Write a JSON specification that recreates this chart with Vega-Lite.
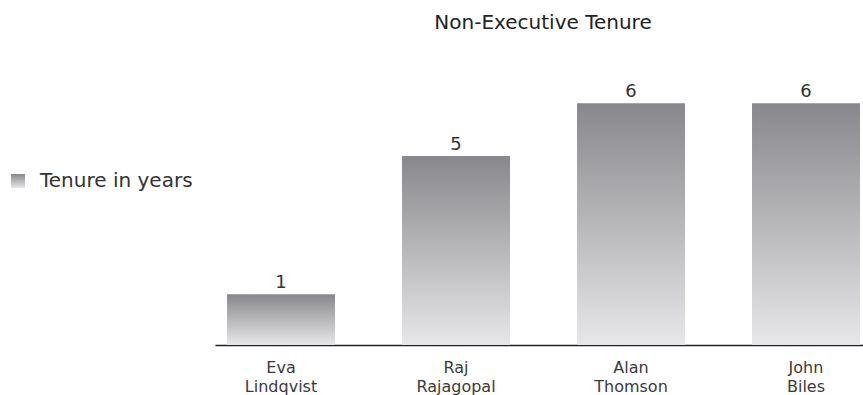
{
  "$schema": "https://vega.github.io/schema/vega-lite/v6.json",
  "autosize": "none",
  "padding": {"left": 215, "top": 63, "right": 0, "bottom": 50},
  "width": 648,
  "height": 282,
  "background": "white",
  "title": {
    "text": "Non-Executive Tenure",
    "font": "DejaVu Sans",
    "fontSize": 20,
    "fontWeight": "normal",
    "color": "#222222",
    "anchor": "middle",
    "frame": "group",
    "offset": 30,
    "dx": 4
  },
  "data": {
    "values": [
      {"name": "Eva Lindqvist", "tenure": 1.26, "label": "1", "series": "Tenure in years"},
      {"name": "Raj Rajagopal", "tenure": 4.69, "label": "5", "series": "Tenure in years"},
      {"name": "Alan Thomson", "tenure": 6.0, "label": "6", "series": "Tenure in years"},
      {"name": "John Biles", "tenure": 6.0, "label": "6", "series": "Tenure in years"}
    ]
  },
  "encoding": {
    "x": {
      "field": "name",
      "type": "nominal",
      "sort": null,
      "scale": {"paddingInner": 0.383, "paddingOuter": 0.043, "align": 0.8},
      "axis": {
        "title": null,
        "labelAngle": 0,
        "ticks": false,
        "tickSize": 0,
        "labelPadding": 14,
        "labelFont": "DejaVu Sans",
        "labelFontSize": 16,
        "labelColor": "#3a3a3a",
        "labelBaseline": "top",
        "labelLineHeight": 19,
        "labelExpr": "split(datum.label, ' ')",
        "domainColor": "#222222",
        "domainWidth": 1.5,
        "grid": false
      }
    },
    "y": {
      "field": "tenure",
      "type": "quantitative",
      "scale": {"domain": [0, 7], "nice": false},
      "axis": null
    }
  },
  "layer": [
    {
      "mark": {
        "type": "bar",
        "fill": {
          "gradient": "linear",
          "x1": 0, "y1": 0, "x2": 0, "y2": 1,
          "stops": [
            {"offset": 0, "color": "#88888c"},
            {"offset": 1, "color": "#e7e7e9"}
          ]
        }
      },
      "encoding": {
        "opacity": {
          "field": "series",
          "type": "ordinal",
          "scale": {"range": [1, 1]},
          "legend": {
            "title": null,
            "orient": "none",
            "legendX": -207,
            "legendY": 108,
            "padding": 0,
            "symbolType": "square",
            "symbolSize": 196,
            "symbolStrokeWidth": 0,
            "labelFont": "DejaVu Sans",
            "labelFontSize": 20,
            "labelColor": "#333333",
            "labelOffset": 12
          }
        }
      }
    },
    {
      "mark": {
        "type": "text",
        "baseline": "alphabetic",
        "dy": -6,
        "font": "DejaVu Sans",
        "fontSize": 18,
        "color": "#333333"
      },
      "encoding": {
        "text": {"field": "label"}
      }
    }
  ],
  "config": {
    "view": {"stroke": null}
  }
}
